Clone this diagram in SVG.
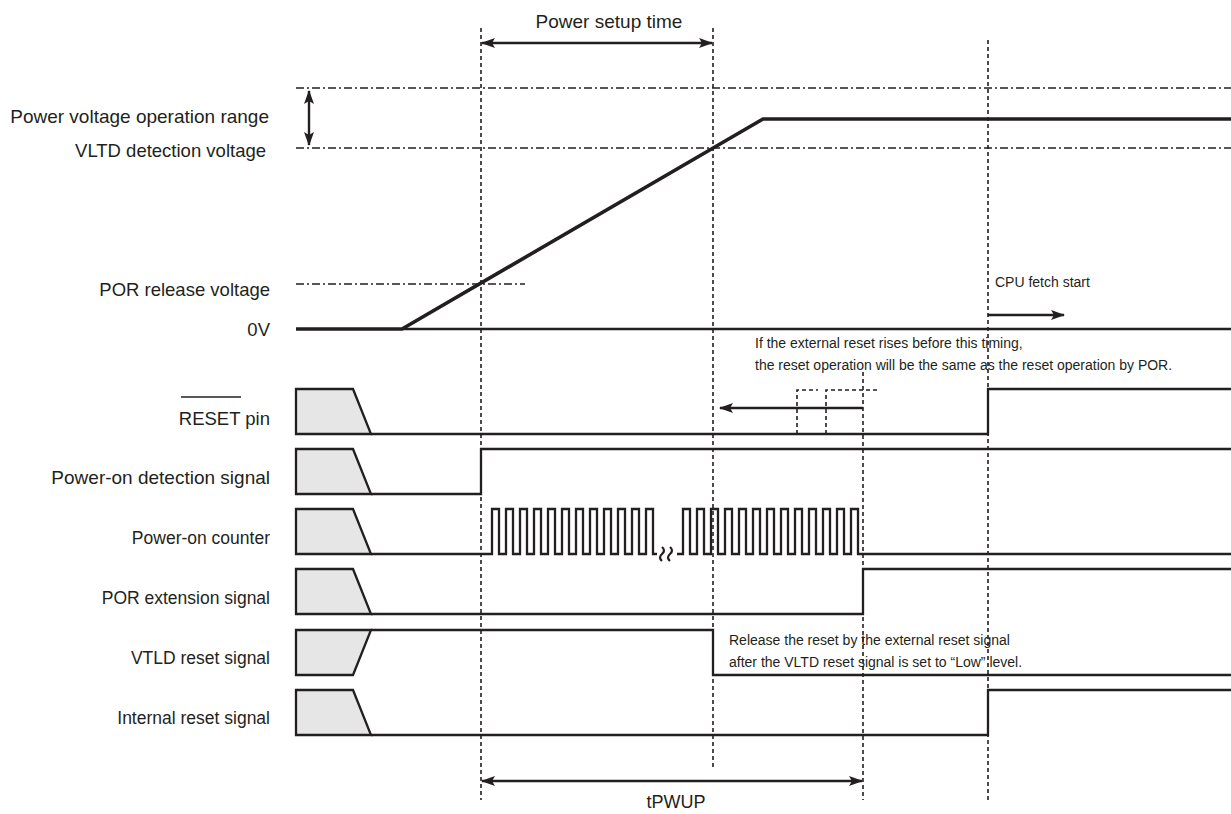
<svg xmlns="http://www.w3.org/2000/svg" width="1231" height="814" viewBox="0 0 1231 814">
<defs>
<style>
text{font-family:"Liberation Sans",Arial,sans-serif;fill:#231f20}
.lbl{font-size:18.5px;text-anchor:end}
.lbs{font-size:17.5px;text-anchor:end}
.sm{font-size:14px}
.big{font-size:19px;text-anchor:middle}
.sig{fill:none;stroke:#231f20;stroke-width:2.3}
.pwr{fill:none;stroke:#231f20;stroke-width:3.6}
.gray{fill:#e6e6e6;stroke:#231f20;stroke-width:2.3;stroke-linejoin:miter}
.vd{fill:none;stroke:#231f20;stroke-width:1.6;stroke-dasharray:4 3}
.dd{fill:none;stroke:#231f20;stroke-width:1.6;stroke-dasharray:8 3 2 3}
.arr{fill:none;stroke:#231f20;stroke-width:2.4}
</style>
<marker id="ah" viewBox="0 0 14 10" refX="13" refY="5" markerWidth="14" markerHeight="10" markerUnits="userSpaceOnUse" orient="auto-start-reverse">
<path d="M0,0 L14,5 L0,10 L3,5 Z" fill="#231f20"/>
</marker>
</defs>
<rect width="1231" height="814" fill="#ffffff"/>

<g id="guides">
<path class="dd" d="M296,88 H1231"/>
<path class="dd" d="M296,148 H1231"/>
<path class="dd" d="M296,284 H525"/>
<path class="vd" d="M481,28 V800"/>
<path class="vd" d="M713,28 V770"/>
<path class="vd" d="M863,372 V800"/>
<path class="vd" d="M988,40 V800"/>
</g>

<g id="labels">
<text class="lbl" x="269" y="123" style="font-size:19px">Power voltage operation range</text>
<text class="lbl" x="266" y="157">VLTD detection voltage</text>
<text class="lbl" x="270" y="296">POR release voltage</text>
<text class="lbl" x="270" y="336">0V</text>
<text class="lbl" x="270" y="425">RESET pin</text>
<line x1="181" y1="397" x2="241" y2="397" stroke="#231f20" stroke-width="1.6"/>
<text class="lbl" x="270" y="484" style="font-size:19px">Power-on detection signal</text>
<text class="lbs" x="270" y="544">Power-on counter</text>
<text class="lbs" x="270" y="604">POR extension signal</text>
<text class="lbs" x="270" y="664">VTLD reset signal</text>
<text class="lbs" x="270" y="724">Internal reset signal</text>
</g>

<g id="power-voltage">
<path class="sig" d="M402,329 H1231"/>
<path class="pwr" d="M296,329 H402 L763,119 H1231"/>
</g>

<g id="reset-pin">
<polygon class="gray" points="296,389 353,389 371,434 296,434"/>
<path class="sig" d="M371,434 H988 V389 H1231"/>
<path class="vd" d="M797,434 V390 H818"/>
<path class="vd" d="M826,434 V390 H880"/>
</g>

<g id="power-on-detection">
<polygon class="gray" points="296,449 353,449 371,494 296,494"/>
<path class="sig" d="M371,494 H481 V449 H1231"/>
</g>

<g id="power-on-counter">
<polygon class="gray" points="296,509 353,509 371,554 296,554"/>
<path class="sig" d="M371,554 H492 V509 h7 v45 h7 V509 h7 v45 h7 V509 h7 v45 h7 V509 h7 v45 h7 V509 h7 v45 h7 V509 h7 v45 h7 V509 h7 v45 h7 V509 h7 v45 h7 V509 h7 v45 h7 V509 h7 v45 h7 V509 h7 v45 h7 V509 h7 v45 H657"/>
<path class="sig" d="M662,547 q4,3.5 0,7 q-4,3.5 0,7 M670,547 q4,3.5 0,7 q-4,3.5 0,7"/>
<path class="sig" d="M677,554 H683 V509 h7 v45 h7 V509 h7 v45 h7 V509 h7 v45 h7 V509 h7 v45 h7 V509 h7 v45 h7 V509 h7 v45 h7 V509 h7 v45 h7 V509 h7 v45 h7 V509 h7 v45 h7 V509 h7 v45 h7 V509 h7 v45 h7 V509 h7 v45 h7 V509 h7 v45 H1231"/>
</g>

<g id="por-extension">
<polygon class="gray" points="296,569 353,569 371,614 296,614"/>
<path class="sig" d="M371,614 H863 V569 H1231"/>
</g>

<g id="vtld-reset">
<polygon class="gray" points="296,630 371,630 353,675 296,675"/>
<path class="sig" d="M371,630 H713 V675 H1231"/>
</g>

<g id="internal-reset">
<polygon class="gray" points="296,690 353,690 371,735 296,735"/>
<path class="sig" d="M371,735 H988 V690 H1231"/>
</g>

<g id="connectors">
<path class="arr" d="M309,91 V145" marker-start="url(#ah)" marker-end="url(#ah)"/>
<path class="arr" d="M482,43 H712" marker-start="url(#ah)" marker-end="url(#ah)"/>
<path class="arr" d="M482,781 H862" marker-start="url(#ah)" marker-end="url(#ah)"/>
<path class="arr" d="M988,315 H1064" marker-end="url(#ah)"/>
<path class="arr" d="M863,408 H720" marker-end="url(#ah)"/>
</g>

<g id="annotations">
<text class="big" x="609" y="28">Power setup time</text>
<text class="big" x="676" y="808" style="font-size:18px">tPWUP</text>
<text class="sm" x="995" y="287">CPU fetch start</text>
<text class="sm" x="755" y="348">If the external reset rises before this timing,</text>
<text class="sm" x="755" y="370">the reset operation will be the same as the reset operation by POR.</text>
<text class="sm" x="729" y="645">Release the reset by the external reset signal</text>
<text class="sm" x="729" y="667">after the VLTD reset signal is set to “Low” level.</text>
</g>
</svg>
